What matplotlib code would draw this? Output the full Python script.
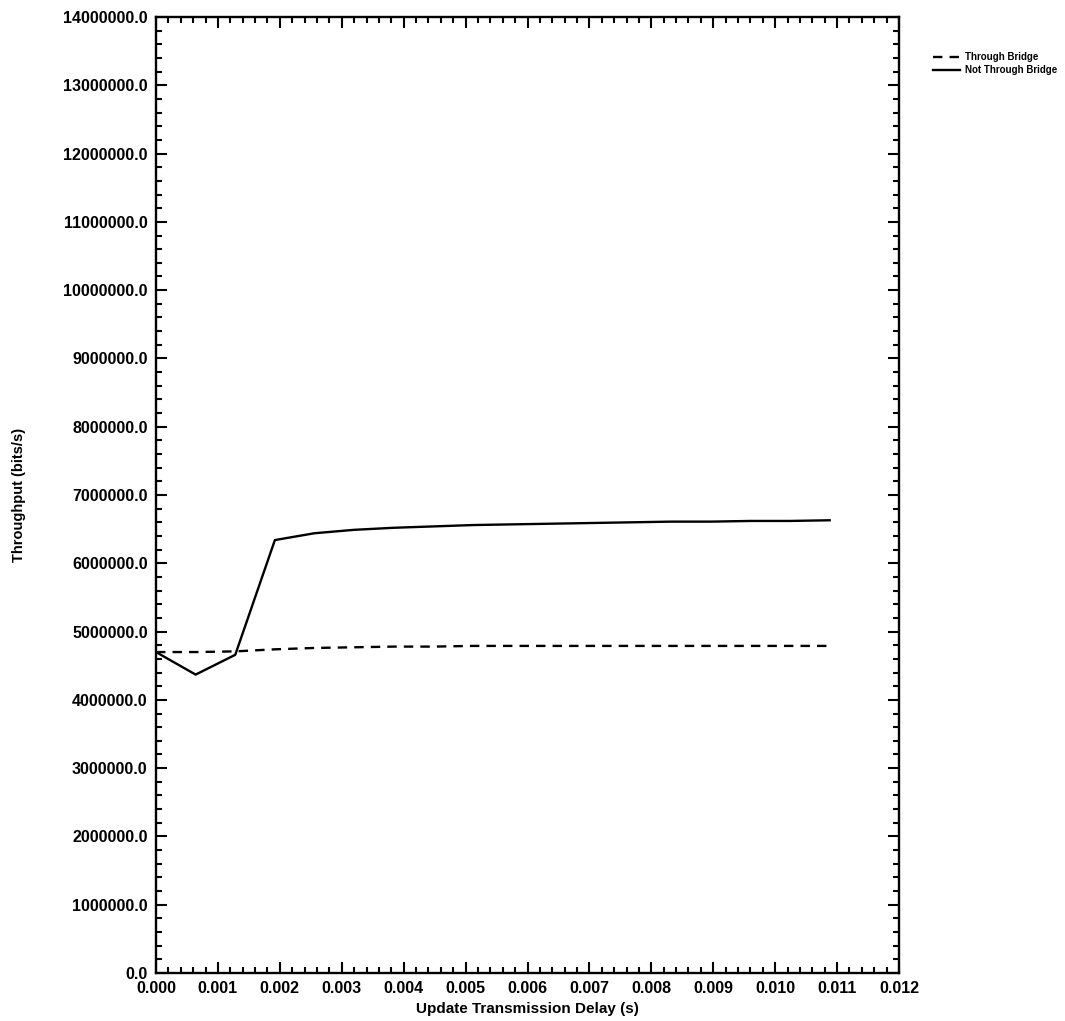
import matplotlib
matplotlib.use("Agg")
import matplotlib.pyplot as plt
from matplotlib.ticker import MultipleLocator, FormatStrFormatter

# ---- data ----
delay_s = [0.0, 0.00064, 0.00128, 0.00192, 0.00256, 0.0032, 0.00384, 0.00448,
           0.00512, 0.00576, 0.0064, 0.00704, 0.00768, 0.00832, 0.00896,
           0.0096, 0.01024, 0.01088]
through_bridge = [4700000, 4700000, 4710000, 4740000, 4760000, 4770000, 4780000,
                  4780000, 4790000, 4790000, 4790000, 4790000, 4790000, 4790000,
                  4790000, 4790000, 4790000, 4790000]
not_through_bridge = [4700000, 4370000, 4660000, 6340000, 6440000, 6490000,
                      6520000, 6540000, 6560000, 6570000, 6580000, 6590000,
                      6600000, 6610000, 6610000, 6620000, 6620000, 6630000]
series_labels = ["Through Bridge", "Not Through Bridge"]
x_label = "Update Transmission Delay (s)"
y_label = "Throughput (bits/s)"

plt.rcParams['font.family'] = ['Liberation Sans', 'DejaVu Sans']
plt.rcParams['font.weight'] = 'bold'

W, H = 1065, 1021
fig = plt.figure(figsize=(W / 100, H / 100), dpi=100)
left, right, top, bottom = 156, 899, 17, 973
ax = fig.add_axes([left / W, 1 - bottom / H, (right - left) / W, (bottom - top) / H])

l1, = ax.plot(delay_s, through_bridge, color='black', lw=1.7, ls=(0, (4, 3)))
l2, = ax.plot(delay_s, not_through_bridge, color='black', lw=1.7)

ax.set_xlim(0, 0.012)
ax.set_ylim(0, 14000000)
ax.xaxis.set_major_locator(MultipleLocator(0.001))
ax.xaxis.set_minor_locator(MultipleLocator(0.0002))
ax.yaxis.set_major_locator(MultipleLocator(1000000))
ax.yaxis.set_minor_locator(MultipleLocator(200000))
ax.xaxis.set_major_formatter(FormatStrFormatter('%.3f'))
ax.yaxis.set_major_formatter(FormatStrFormatter('%.1f'))

for s in ax.spines.values():
    s.set_linewidth(1.7)
ax.tick_params(which='both', direction='in', top=True, right=True, width=1.5)
ax.tick_params(which='major', length=8)
ax.tick_params(which='minor', length=4)
ax.tick_params(axis='y', which='major', pad=6, labelsize=11.5)
ax.tick_params(axis='x', which='major', pad=6, labelsize=11.5)
for lab in ax.get_xticklabels() + ax.get_yticklabels():
    lab.set_fontweight('bold')

ax.set_xlabel(x_label, fontsize=11, fontweight='bold')
ax.set_ylabel(y_label, fontsize=10.5, fontweight='bold')
ax.xaxis.set_label_coords(0.5, -0.03)
ax.yaxis.set_label_coords(-0.175, 0.5)

fig.legend([l1, l2], series_labels, loc='upper left',
           bbox_to_anchor=(933 / W, 1 - 52 / H), frameon=False,
           prop={'size': 7, 'weight': 'bold'}, handlelength=2.8,
           handletextpad=0.5, labelspacing=0.35, borderpad=0, borderaxespad=0)

fig.savefig("out.png", dpi=100)
